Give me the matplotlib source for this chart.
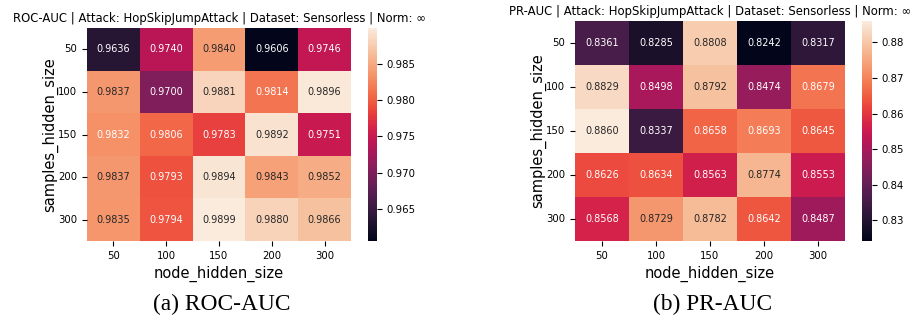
import numpy as np
import matplotlib
matplotlib.use("Agg")
import matplotlib.pyplot as plt
import seaborn as sns

# hidden sizes swept in the grid search
node_sizes = [50, 100, 150, 200, 300]
sample_sizes = [50, 100, 150, 200, 300]

# rows: samples_hidden_size, cols: node_hidden_size
roc_auc = [
    [0.9636, 0.9740, 0.9840, 0.9606, 0.9746],
    [0.9837, 0.9700, 0.9881, 0.9814, 0.9896],
    [0.9832, 0.9806, 0.9783, 0.9892, 0.9751],
    [0.9837, 0.9793, 0.9894, 0.9843, 0.9852],
    [0.9835, 0.9794, 0.9899, 0.9880, 0.9866],
]

pr_auc = [
    [0.8361, 0.8285, 0.8808, 0.8242, 0.8317],
    [0.8829, 0.8498, 0.8792, 0.8474, 0.8679],
    [0.8860, 0.8337, 0.8658, 0.8693, 0.8645],
    [0.8626, 0.8634, 0.8563, 0.8774, 0.8553],
    [0.8568, 0.8729, 0.8782, 0.8642, 0.8487],
]

W, H = 919, 322
fig = plt.figure(figsize=(W / 100, H / 100), dpi=100)

def box(x0, y0, x1, y1):
    return [x0 / W, 1 - y1 / H, (x1 - x0) / W, (y1 - y0) / H]

panels = [
    (roc_auc, "ROC-AUC", box(87, 28, 351, 241), box(368, 28, 377, 241), "(a) ROC-AUC", 222),
    (pr_auc, "PR-AUC", box(575, 21, 845, 241), box(862, 21, 872, 241), "(b) PR-AUC", 713),
]

for data, metric, ax_box, cb_box, caption, cx in panels:
    ax = fig.add_axes(ax_box)
    cax = fig.add_axes(cb_box)
    sns.heatmap(np.array(data), ax=ax, cbar_ax=cax, annot=True, fmt=".4f",
                xticklabels=node_sizes, yticklabels=sample_sizes,
                annot_kws={"fontsize": 7})
    ax.set_title(metric + " | Attack: HopSkipJumpAttack | Dataset: Sensorless | Norm: \u221e",
                 fontsize=8.4, pad=4)
    ax.set_xlabel("node_hidden_size", fontsize=10.5)
    ax.set_ylabel("samples_hidden_size", fontsize=10.5, labelpad=0)
    ax.tick_params(labelsize=7.3)
    ax.tick_params(axis="y", rotation=0)
    cax.tick_params(labelsize=7.3)
    fig.text(cx / W, 1 - 304 / H, caption, ha="center", va="center",
             fontsize=16.8, family="Liberation Serif")

fig.savefig("out.png", dpi=100)
